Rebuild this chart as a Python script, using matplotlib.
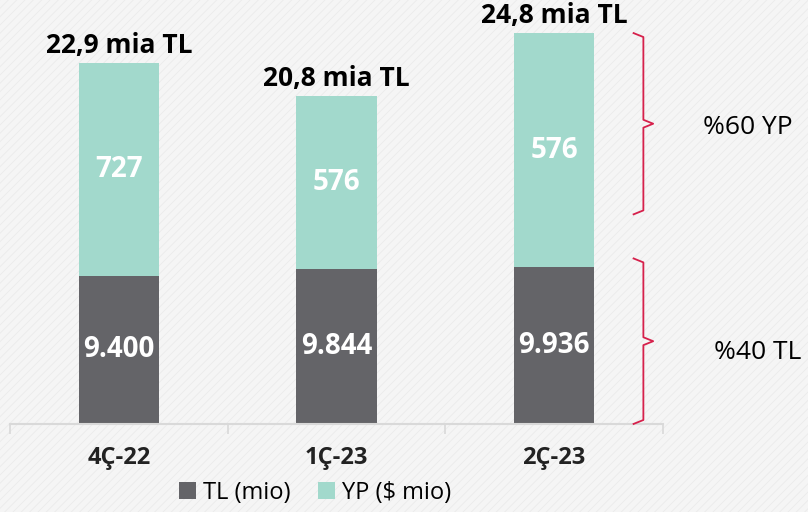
import matplotlib.pyplot as plt
from matplotlib.patches import Rectangle
from matplotlib import font_manager

names = sorted({f.name for f in font_manager.fontManager.ttflist})
print(names)

# Data
categories = ['4Ç-22', '1Ç-23', '2Ç-23']
tl_values = [9.400, 9.844, 9.936]          # mia TL
total_values = [22.9, 20.8, 24.8]          # mia TL
yp_labels = ['727', '576', '576']          # $ mio
tl_labels = ['9.400', '9.844', '9.936']
total_labels = ['22,9 mia TL', '20,8 mia TL', '24,8 mia TL']
yp_values = [t - s for t, s in zip(total_values, tl_values)]

dark = '#646468'
mint = '#a2d9cc'
red = '#d6204b'
bold_font = ['Open Sans', 'DejaVu Sans']
narrow = ['Liberation Sans Narrow', 'Open Sans', 'DejaVu Sans']

fig = plt.figure(figsize=(8.08, 5.12), dpi=100)
fig.patch.set_facecolor('#f5f5f5')
plt.rcParams['hatch.linewidth'] = 0.6
fig.patches.append(Rectangle((0, 0), 1, 1, transform=fig.transFigure,
                             facecolor='none', edgecolor='#ebebeb',
                             hatch='////', lw=0, zorder=-10))

ax = fig.add_axes([0.0124, 0.172, 0.8081, 0.828])
ax.set_facecolor('none')
x = list(range(len(categories)))
w = 0.37
ax.bar(x, tl_values, width=w, color=dark, label='TL (mio)', zorder=2)
ax.bar(x, yp_values, width=w, bottom=tl_values, color=mint,
       label='YP ($ mio)', zorder=2)

for i in x:
    ax.text(i, tl_values[i] / 2, tl_labels[i], ha='center', va='center',
            color='white', fontsize=20, fontweight='bold', family=bold_font)
    ax.text(i, tl_values[i] + yp_values[i] / 2, yp_labels[i], ha='center',
            va='center', color='white', fontsize=20, fontweight='bold',
            family=bold_font)
    ax.annotate(total_labels[i], (i, total_values[i]), xytext=(0, 3),
                textcoords='offset points', ha='center', va='bottom',
                fontsize=19, fontweight='bold', family=bold_font)

ax.set_xlim(-0.5, 2.5)
ax.set_ylim(0, 26.9)
for s in ['top', 'right', 'left']:
    ax.spines[s].set_visible(False)
ax.spines['bottom'].set_color('#d9d9d9')
ax.spines['bottom'].set_linewidth(1.5)
ax.set_yticks([])
ax.set_xticks([-0.5, 0.5, 1.5, 2.5])
ax.set_xticklabels([])
ax.tick_params(axis='x', length=7, color='#d9d9d9', width=1.2)
for i in x:
    ax.text(i, -1.4, categories[i], ha='center', va='top', fontsize=17,
            fontweight='bold', family=bold_font, color='#222222')


def brace(xc, y0, y1, dx=0.045, dy=0.25):
    mid = (y0 + y1) / 2
    xs = [xc - dx, xc, xc, xc + dx, xc, xc, xc - dx]
    ys = [y1, y1 - dy, mid + dy, mid, mid - dy, y0 + dy, y0]
    ax.plot(xs, ys, color=red, lw=1.3, clip_on=False, zorder=3)


brace(2.41, 13.3, 24.8)
brace(2.41, 0.0, 10.5)
fig.text(0.925, 0.75, '%60 YP', ha='center', va='center', fontsize=19,
         family=['Open Sans', 'DejaVu Sans'])
fig.text(0.938, 0.312, '%40 TL', ha='center', va='center', fontsize=19,
         family=['Open Sans', 'DejaVu Sans'])

ax.legend(loc='center', bbox_to_anchor=(0.39, 0.038), bbox_transform=fig.transFigure,
          ncol=2, frameon=False, handlelength=0.7, handleheight=0.7,
          handletextpad=0.3, columnspacing=1.2,
          prop={'family': narrow, 'size': 17})

fig.savefig('out.png', dpi=100, facecolor=fig.get_facecolor())
